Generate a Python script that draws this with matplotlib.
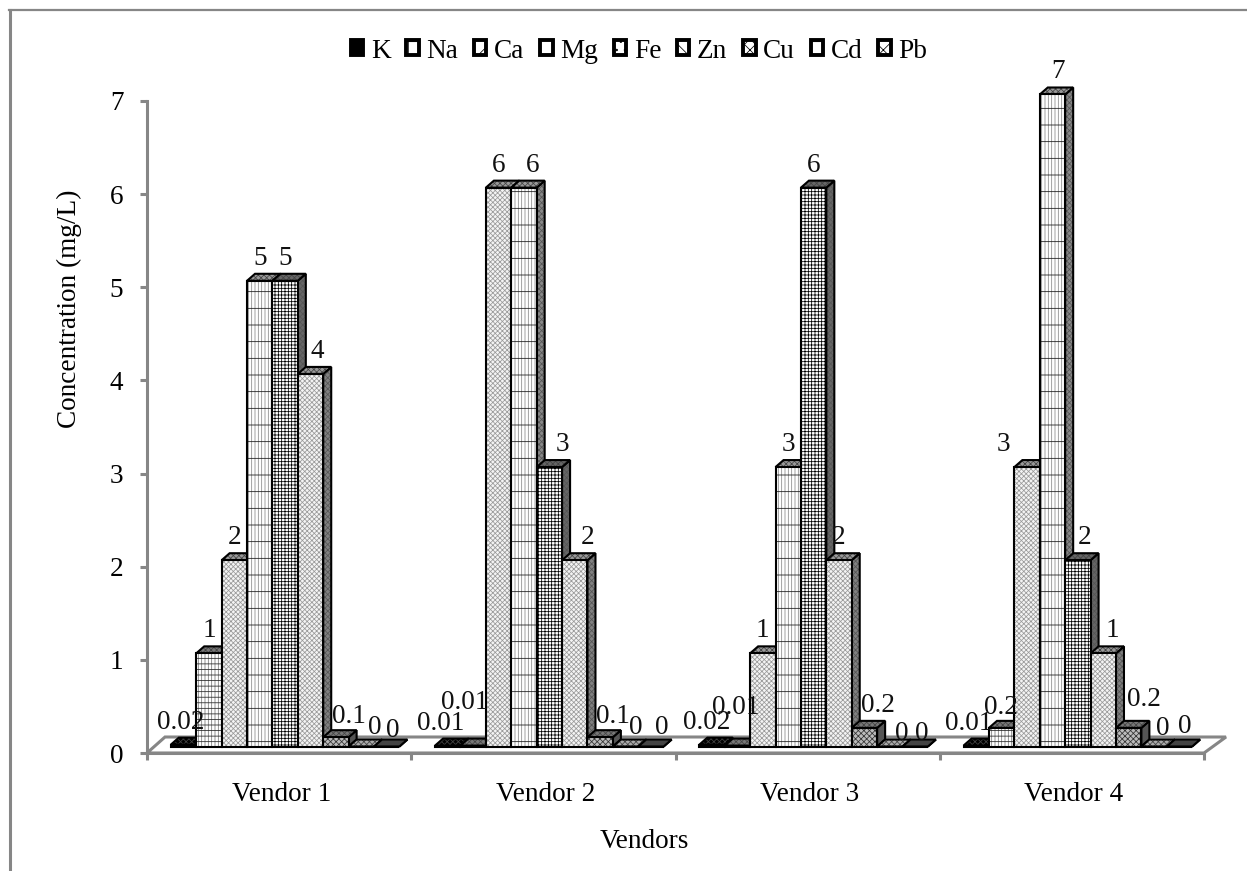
import matplotlib
matplotlib.use("Agg")
import matplotlib.pyplot as plt
from matplotlib.patches import Patch, Polygon
from matplotlib.lines import Line2D
from matplotlib.transforms import Affine2D, IdentityTransform

plt.rcParams['font.family'] = ['Liberation Serif', 'DejaVu Serif']
plt.rcParams['hatch.linewidth'] = 0.55

vendors = ["Vendor 1", "Vendor 2", "Vendor 3", "Vendor 4"]
elements = ["K", "Na", "Ca", "Mg", "Fe", "Zn", "Cu", "Cd", "Pb"]
vendor_1 = [0.02, 1, 2, 5, 5, 4, 0.1, 0, 0]
vendor_2 = [0.01, 0.01, 6, 6, 3, 2, 0.1, 0, 0]
vendor_3 = [0.02, 0.01, 1, 3, 6, 2, 0.2, 0, 0]
vendor_4 = [0.01, 0.2, 3, 7, 2, 1, 0.2, 0, 0]
series_by_vendor = [vendor_1, vendor_2, vendor_3, vendor_4]
y_ticks = [0, 1, 2, 3, 4, 5, 6, 7]

# style per element: front face, front hatch layers, side face, top face, legend hatch
styles = {
    "K":  ("#000000", [],                                 "#000000", "#000000", None),
    "Na": ("#ffffff", [("|||||", "#777777"), ("---", "#222222")], "#777777", "#777777", "+"),
    "Ca": ("#f4f4f4", [("xxxxxxx", "#9a9a9a")],           "#888888", "#999999", "/"),
    "Mg": ("#ffffff", [("|||||", "#888888"), ("-", "#111111")], "#888888", "#999999", None),
    "Fe": ("#ffffff", [("+++++", "#000000")],             "#666666", "#666666", ".."),
    "Zn": ("#f4f4f4", [("xxxxxxx", "#9a9a9a")],           "#808080", "#999999", "\\"),
    "Cu": ("#bbbbbb", [("xxxxxx", "#333333")],            "#555555", "#777777", "xxx"),
    "Cd": ("#ffffff", [("xxxxx", "#666666")],             "#888888", "#aaaaaa", "+"),
    "Pb": ("#777777", [("xxxxx", "#111111")],             "#333333", "#444444", "xx"),
}

W, H = 1247, 871
GREY = "#868686"
FS = 19.6
fig = plt.figure(figsize=(W / 100, H / 100), dpi=100, facecolor="white")
ax = fig.add_axes([147 / W, (H - 753) / H, (1204 - 147) / W, (753 - 101) / H])
ax.set_xlim(0, 4)
ax.set_ylim(0, 7)
ax.set_facecolor("none")

for s in ("top", "right"):
    ax.spines[s].set_visible(False)
for s in ("left", "bottom"):
    ax.spines[s].set_color(GREY)
    ax.spines[s].set_linewidth(2.2)
ax.set_yticks(y_ticks)
ax.set_xticks([0, 1, 2, 3, 4])
ax.set_xticklabels([])
ax.set_xticks([0.5, 1.5, 2.5, 3.5], labels=vendors, minor=True)
ax.tick_params(axis="both", which="major", color=GREY, width=2.2, length=5)
ax.tick_params(axis="y", labelsize=FS, pad=12)
ax.tick_params(axis="x", which="minor", length=0, labelsize=FS, pad=21)
for lbl in ax.get_xminorticklabels():
    lbl.set_transform(lbl.get_transform() + Affine2D().translate(2, 0))
ax.set_xlabel("Vendors", fontsize=FS)
ax.xaxis.set_label_coords((644 - 147) / (1204 - 147), (753 - 829) / (753 - 101))
ax.set_ylabel("Concentration (mg/L)", fontsize=FS)
ax.yaxis.set_label_coords((82 - 147) / (1204 - 147), (753 - 309) / (753 - 101))


def px(x, y):
    return (x, H - y)


def poly(points, face, hcolor, hatch, zorder, lw=1.5):
    if hatch:
        ax.add_patch(Polygon(points, closed=True, transform=IdentityTransform(), facecolor=face,
                             edgecolor=hcolor, hatch=hatch, linewidth=0, zorder=zorder, clip_on=False))
    else:
        ax.add_patch(Polygon(points, closed=True, transform=IdentityTransform(), facecolor=face,
                             edgecolor="none", zorder=zorder, clip_on=False))
    ax.add_patch(Polygon(points, closed=True, transform=IdentityTransform(), facecolor="none",
                         edgecolor="black", linewidth=lw, joinstyle="miter", zorder=zorder + 0.01, clip_on=False))


# 3-D floor
floor = [px(147, 753), px(165, 737), px(1226, 737), px(1204, 753)]
ax.add_patch(Polygon(floor, closed=True, transform=IdentityTransform(), facecolor="white",
                     edgecolor=GREY, linewidth=2.2, zorder=1, clip_on=False))

# bars are shifted into the floor, with a depth offset for their top and side faces
SHIFT_X, SHIFT_Y = 6, 6.5
DEPTH_X, DEPTH_Y = 8, 7
bar_data = ax.transData + Affine2D().translate(SHIFT_X, SHIFT_Y)
BAR_W = 25.4 / 264.25

# label placement tweaks in pixels: (vendor, element) -> (dx, dy)
nudges = {
    (0, 0): (-3, 0), (0, 5): (7, 0), (0, 6): (13, -2), (0, 7): (13, -3), (0, 8): (6, -6),
    (1, 0): (-7, 0), (1, 1): (-8, 21), (1, 3): (9, 0), (1, 4): (13, 0), (1, 5): (13, 0),
    (1, 6): (13, -2), (1, 7): (10, -3), (1, 8): (11, -3),
    (2, 0): (-5, 0), (2, 1): (-2, 16), (2, 6): (14, 0), (2, 7): (12, -9), (2, 8): (7, -9),
    (3, 0): (-8, 0), (3, 1): (-1, -2), (3, 2): (-24, 0), (3, 3): (6, 0), (3, 4): (7, 0),
    (3, 5): (9, 0), (3, 6): (15, 6), (3, 7): (9, -4), (3, 8): (5, -2),
}

z = 3
for v, values in enumerate(series_by_vendor):
    for i, (el, val) in enumerate(zip(elements, values)):
        face, layers, side, top, _ = styles[el]
        xc = v + 0.5 + (i - 4) * BAR_W
        x0_, y0_ = bar_data.transform((xc - BAR_W / 2, 0))
        x1_, y1_ = bar_data.transform((xc + BAR_W / 2, val))
        poly([(x1_, y0_), (x1_ + DEPTH_X, y0_ + DEPTH_Y), (x1_ + DEPTH_X, y1_ + DEPTH_Y), (x1_, y1_)],
             side, "#555555", "xxxxxx", z)
        poly([(x0_, y1_), (x0_ + DEPTH_X, y1_ + DEPTH_Y), (x1_ + DEPTH_X, y1_ + DEPTH_Y), (x1_, y1_)],
             top, "#444444", "xxxxxx", z + 0.1)
        kw = dict(width=BAR_W, transform=bar_data, clip_on=False)
        ax.bar(xc, val, color=face, linewidth=0, zorder=z + 0.15, **kw)
        for k, (hatch, hcol) in enumerate(layers):
            ax.bar(xc, val, color="none", edgecolor=hcol, hatch=hatch, linewidth=0,
                   zorder=z + 0.2 + k * 0.01, **kw)
        ax.bar(xc, val, color="none", edgecolor="black", linewidth=1.5, zorder=z + 0.3, **kw)
        z += 1

for v, values in enumerate(series_by_vendor):
    for i, (el, val) in enumerate(zip(elements, values)):
        xc = v + 0.5 + (i - 4) * BAR_W
        dx, dy = nudges.get((v, i), (0, 0))
        ax.annotate(f"{val:g}", xy=(xc, val), xycoords=bar_data,
                    xytext=(dx, 16 + dy), textcoords="offset pixels",
                    ha="center", va="baseline", fontsize=FS, color="#111111", zorder=500, annotation_clip=False)

# legend
handles = []
for el in elements:
    face, layers, side, top, leg_hatch = styles[el]
    handles.append(Patch(facecolor="black" if el == "K" else "white", edgecolor="black", hatch=leg_hatch,
                         linewidth=2.8, label=el))
leg = fig.legend(handles=handles, loc="center", bbox_to_anchor=(639 / W, (H - 51) / H), ncol=9,
                 frameon=False, fontsize=FS, handlelength=0.46, handleheight=0.46,
                 handletextpad=0.28, columnspacing=0.575, borderpad=0)

# outer border
fig.add_artist(Line2D([10 / W, 10 / W], [0, (H - 10) / H], color=GREY, linewidth=2.2))
fig.add_artist(Line2D([9 / W, 1], [(H - 10) / H, (H - 10) / H], color=GREY, linewidth=1.6))

fig.savefig("out.png", dpi=100, facecolor="white")
